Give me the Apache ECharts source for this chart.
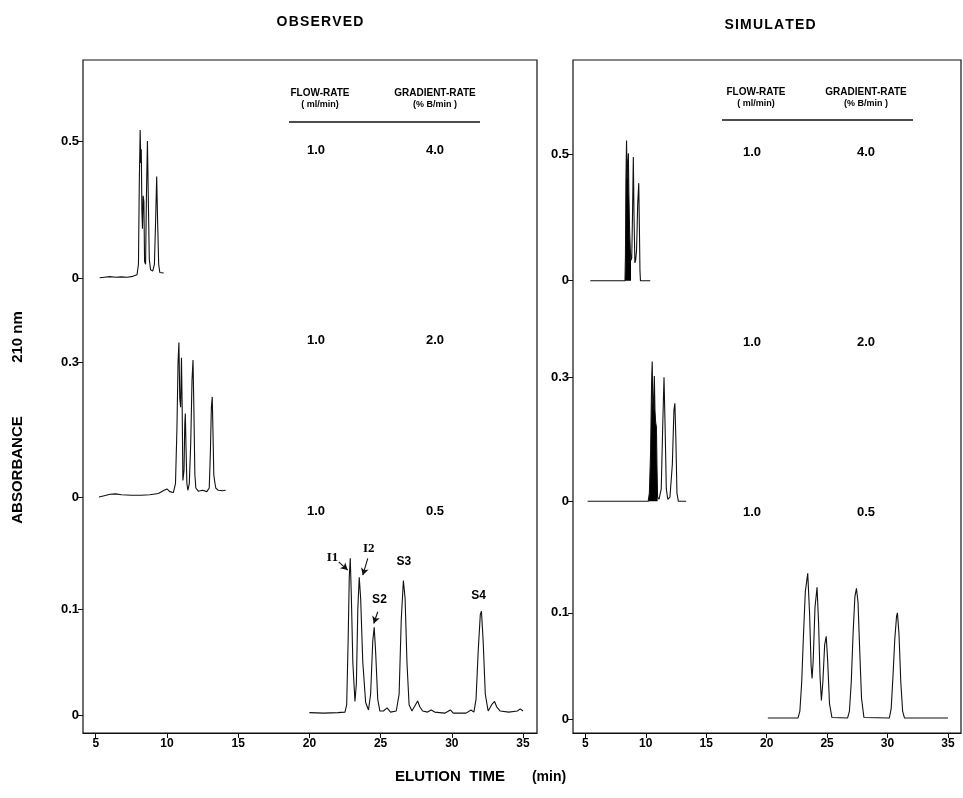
<!DOCTYPE html>
<html>
<head>
<meta charset="utf-8">
<script src="https://cdn.jsdelivr.net/npm/echarts@6/dist/echarts.min.js"></script>
<style>html,body{margin:0;padding:0;background:#fff}#c{width:963px;height:798px}</style>
</head>
<body>
<div id="c"></div>
<script>
// ---------- data ----------
const xTicks = [5, 10, 15, 20, 25, 30, 35];
const yTicksTop = [0, 0.5];
const yTicksMid = [0, 0.3];
const yTicksBot = [0, 0.1];
const flowRates = ['1.0', '1.0', '1.0'];
const gradientRates = ['4.0', '2.0', '0.5'];

// Observed, gradient 4.0 %B/min  [time, absorbance]
const obs4 = [[5.28,0.001],[5.6,0.003],[6.0,0.005],[6.4,0.003],[6.8,0.004],[7.2,0.003],[7.6,0.006],[7.9,0.012],[8.0,0.05],[8.06,0.35],[8.12,0.54],[8.16,0.42],[8.2,0.47],[8.24,0.25],[8.28,0.18],[8.33,0.30],[8.38,0.28],[8.43,0.06],[8.5,0.05],[8.56,0.30],[8.63,0.50],[8.69,0.30],[8.76,0.07],[8.85,0.03],[9.0,0.025],[9.12,0.05],[9.2,0.20],[9.28,0.37],[9.34,0.22],[9.42,0.05],[9.5,0.02],[9.6,0.022],[9.77,0.018]];
// Observed, gradient 2.0 %B/min
const obs2 = [[5.23,0.0],[5.6,0.003],[6.0,0.006],[6.4,0.007],[6.8,0.005],[7.5,0.004],[8.2,0.004],[8.8,0.005],[9.4,0.008],[9.8,0.015],[10.0,0.018],[10.2,0.012],[10.45,0.010],[10.6,0.03],[10.7,0.15],[10.78,0.30],[10.84,0.344],[10.9,0.22],[10.96,0.20],[11.02,0.31],[11.07,0.20],[11.12,0.037],[11.2,0.06],[11.25,0.16],[11.29,0.186],[11.34,0.11],[11.4,0.03],[11.47,0.015],[11.57,0.03],[11.67,0.12],[11.76,0.26],[11.83,0.305],[11.89,0.20],[11.96,0.05],[12.03,0.02],[12.2,0.013],[12.5,0.015],[12.8,0.012],[12.97,0.02],[13.05,0.10],[13.12,0.20],[13.18,0.223],[13.23,0.15],[13.29,0.05],[13.35,0.035],[13.43,0.02],[13.6,0.015],[13.9,0.014],[14.12,0.015]];
// Observed, gradient 0.5 %B/min
const obs05 = [[20.0,0.0025],[21.0,0.002],[22.0,0.0025],[22.5,0.003],[22.62,0.01],[22.72,0.07],[22.8,0.13],[22.87,0.148],[22.95,0.11],[23.05,0.05],[23.2,0.013],[23.3,0.03],[23.4,0.10],[23.5,0.13],[23.6,0.11],[23.75,0.05],[23.95,0.012],[24.15,0.005],[24.3,0.02],[24.45,0.07],[24.55,0.083],[24.65,0.06],[24.8,0.015],[24.95,0.004],[25.2,0.004],[25.45,0.007],[25.7,0.003],[26.1,0.004],[26.3,0.02],[26.45,0.09],[26.6,0.127],[26.72,0.11],[26.85,0.05],[27.0,0.01],[27.2,0.004],[27.45,0.01],[27.6,0.0135],[27.75,0.008],[27.95,0.004],[28.3,0.003],[28.55,0.005],[28.8,0.003],[29.5,0.002],[29.9,0.005],[30.1,0.002],[31.0,0.002],[31.35,0.005],[31.55,0.003],[31.7,0.015],[31.85,0.06],[32.0,0.095],[32.08,0.098],[32.2,0.07],[32.35,0.02],[32.55,0.004],[32.8,0.01],[33.0,0.013],[33.15,0.008],[33.4,0.004],[34.0,0.003],[34.6,0.004],[34.8,0.006],[35.0,0.004]];

// Simulated, gradient 4.0 %B/min
const sim4 = [[5.41,0],[8.28,0],[8.32,0.10],[8.36,0.40],[8.41,0.553],[8.45,0.40],[8.5,0.45],[8.56,0.503],[8.6,0.35],[8.66,0.20],[8.72,0.12],[8.78,0.08],[8.84,0.09],[8.9,0.25],[8.97,0.488],[9.03,0.25],[9.1,0.07],[9.16,0.08],[9.24,0.12],[9.33,0.30],[9.42,0.385],[9.47,0.22],[9.52,0.04],[9.56,0.0],[9.7,0.0],[10.37,0]];
// Simulated, gradient 2.0 %B/min
const sim2 = [[5.19,0],[10.2,0],[10.3,0.02],[10.4,0.12],[10.48,0.28],[10.53,0.338],[10.58,0.24],[10.64,0.22],[10.71,0.303],[10.76,0.22],[10.82,0.19],[10.88,0.18],[10.93,0.08],[10.98,0.01],[11.1,0.005],[11.28,0.03],[11.4,0.18],[11.51,0.30],[11.6,0.18],[11.7,0.03],[11.82,0.005],[12.0,0.01],[12.2,0.09],[12.33,0.22],[12.41,0.237],[12.49,0.15],[12.58,0.02],[12.7,0.0],[13.34,0]];
// Simulated, gradient 0.5 %B/min
const sim05 = [[20.1,0.0015],[22.6,0.0015],[22.75,0.008],[22.9,0.035],[23.05,0.08],[23.2,0.12],[23.4,0.137],[23.55,0.10],[23.68,0.05],[23.76,0.0385],[23.85,0.055],[24.0,0.105],[24.17,0.124],[24.3,0.09],[24.42,0.04],[24.53,0.018],[24.65,0.035],[24.8,0.07],[24.93,0.078],[25.05,0.055],[25.2,0.015],[25.4,0.002],[26.7,0.0015],[26.85,0.008],[27.0,0.035],[27.15,0.08],[27.3,0.115],[27.43,0.123],[27.56,0.11],[27.7,0.065],[27.85,0.02],[28.05,0.002],[30.15,0.0015],[30.3,0.01],[30.45,0.04],[30.6,0.075],[30.75,0.097],[30.82,0.100],[30.95,0.08],[31.1,0.035],[31.25,0.008],[31.4,0.0015],[35.0,0.0015]];

// Filled (dense) parts of the simulated traces
const sim4FillRange = [8.28, 8.78];
const sim2FillRange = [10.2, 10.98];

// Peak annotations on observed 0.5 %B/min trace
const peakLabels = [
  {name:'I1', x:21.62, y:0.149, serif:true},
  {name:'I2', x:24.17, y:0.157, serif:true},
  {name:'S2', x:24.92, y:0.1085},
  {name:'S3', x:26.63, y:0.1446},
  {name:'S4', x:31.88, y:0.1123}
];
const peakArrows = [
  [[22.06,0.1446],[22.69,0.1368]],
  [[24.10,0.1478],[23.75,0.132]],
  [[24.80,0.0975],[24.52,0.0865]]
];

// ---------- layout ----------
const FONT = '"Liberation Sans", Arial, sans-serif';
const INK = '#111';
const L = {left:83, width:454};
const R = {left:573, width:388};
const frameTop = 60, frameH = 673;
const rows = [{top:60,h:240},{top:300,h:220},{top:520,h:213}];
const leftY = [[-0.0803,0.7956],[-0.0512,0.4388],[-0.0167,0.184]];
const rightY = [[-0.0762,0.871],[-0.0452,0.487],[-0.01257,0.187]];
const leftX = [4.107, 35.98];
const rightX = [3.98, 36.08];
const yTicksList = [yTicksTop, yTicksMid, yTicksBot];

const grids = [], xAxes = [], yAxes = [], series = [];

function addPanel(P, xr, yr) {
  const fi = grids.length;
  grids.push({left:P.left, top:frameTop, width:P.width, height:frameH, show:true,
    borderColor:INK, borderWidth:1.2, backgroundColor:'transparent'});
  xAxes.push({type:'value', gridIndex:fi, min:xr[0], max:xr[1],
    axisLine:{show:true, lineStyle:{color:INK, width:1.2}},
    axisTick:{show:true, length:5, customValues:xTicks, lineStyle:{color:INK}},
    axisLabel:{show:true, customValues:xTicks, margin:5, color:'#000', fontWeight:'bold', fontSize:12, fontFamily:FONT},
    splitLine:{show:false}});
  yAxes.push({type:'value', gridIndex:fi, min:0, max:1, show:false});
  const idx = [];
  rows.forEach((r, k) => {
    const gi = grids.length;
    grids.push({left:P.left, top:r.top, width:P.width, height:r.h, show:false});
    xAxes.push({type:'value', gridIndex:gi, min:xr[0], max:xr[1], show:false});
    yAxes.push({type:'value', gridIndex:gi, min:yr[k][0], max:yr[k][1],
      axisLine:{show:false},
      axisTick:{show:true, length:5, customValues:yTicksList[k], lineStyle:{color:INK}},
      axisLabel:{show:true, customValues:yTicksList[k], margin:4, color:'#000', fontWeight:'bold', fontSize:13, fontFamily:FONT},
      splitLine:{show:false}});
    idx.push(gi);
  });
  return idx;
}

const li = addPanel(L, leftX, leftY);
const ri = addPanel(R, rightX, rightY);

function trace(data, gi, extra) {
  return Object.assign({type:'line', xAxisIndex:gi, yAxisIndex:gi, data:data,
    showSymbol:false, symbol:'none', smooth:false, silent:true,
    lineStyle:{color:INK, width:1.1}}, extra || {});
}

series.push(trace(obs4, li[0]));
series.push(trace(obs2, li[1]));
series.push(trace(obs05, li[2], {
  markLine:{silent:true, symbol:['none','arrow'], symbolSize:[6,7],
    lineStyle:{color:INK, type:'solid', width:1.1}, label:{show:false},
    data: peakArrows.map(a => [{coord:a[0]},{coord:a[1]}])},
  markPoint:{silent:true, symbol:'circle', symbolSize:1, itemStyle:{color:'rgba(0,0,0,0)'},
    label:{show:true, position:'inside', formatter:'{b}', color:'#000', fontWeight:'bold', fontSize:12},
    data: peakLabels.map(p => ({name:p.name, coord:[p.x,p.y],
      label:{fontFamily: p.serif ? '"Liberation Serif", "Times New Roman", serif' : FONT, fontSize: p.serif ? 13 : 12}}))}
}));

const inRange = (d, r) => d.filter(p => p[0] >= r[0] && p[0] <= r[1]);
series.push(trace(inRange(sim4, sim4FillRange), ri[0], {lineStyle:{width:0}, areaStyle:{color:'#000', opacity:1}}));
series.push(trace(sim4, ri[0]));
series.push(trace(inRange(sim2, sim2FillRange), ri[1], {lineStyle:{width:0}, areaStyle:{color:'#000', opacity:1}}));
series.push(trace(sim2, ri[1]));
series.push(trace(sim05, ri[2]));

// ---------- text / decorations ----------
function txt(x, y, s, size, weight, extra) {
  return Object.assign({type:'text', x:x, y:y, silent:true,
    style:{text:s, fill:'#000', font:(weight||'bold')+' '+size+'px '+FONT, textAlign:'center', textVerticalAlign:'middle'}}, extra||{});
}
const g = [];
g.push(txt(320, 22, 'O B S E R V E D'.replace(/ /g,'\u200A'), 14, 'bold'));
g.push(txt(770, 25, 'S I M U L A T E D'.replace(/ /g,'\u200A'), 14, 'bold'));
g.push(txt(18, 470, 'ABSORBANCE', 15, 'bold', {rotation:Math.PI/2}));
g.push(txt(18, 337, '210 nm', 15, 'bold', {rotation:Math.PI/2}));
g.push(txt(450, 777, 'ELUTION  TIME', 15, 'bold'));
g.push(txt(549, 777, '(min)', 14, 'bold'));

function table(fx, gx, hy, lineY, lx1, lx2, rowY) {
  g.push(txt(fx, hy, 'FLOW-RATE', 10, 'bold'));
  g.push(txt(fx, hy+12, '( ml/min)', 9, 'bold'));
  g.push(txt(gx, hy, 'GRADIENT-RATE', 10, 'bold'));
  g.push(txt(gx, hy+12, '(% B/min )', 9, 'bold'));
  g.push({type:'line', silent:true, shape:{x1:lx1, y1:lineY, x2:lx2, y2:lineY}, style:{stroke:INK, lineWidth:1.3}});
  rowY.forEach((y, k) => {
    g.push(txt(fx - 4, y, flowRates[k], 13, 'bold'));
    g.push(txt(gx, y, gradientRates[k], 13, 'bold'));
  });
}
table(320, 435, 93, 122, 289, 480, [150, 340, 511]);
table(756, 866, 92, 120, 722, 913, [152, 342, 512]);

const chart = echarts.init(document.getElementById('c'), null, {renderer:'canvas'});
chart.setOption({
  animation:false,
  backgroundColor:'#fff',
  grid:grids, xAxis:xAxes, yAxis:yAxes, series:series, graphic:g
});
</script>
</body>
</html>
